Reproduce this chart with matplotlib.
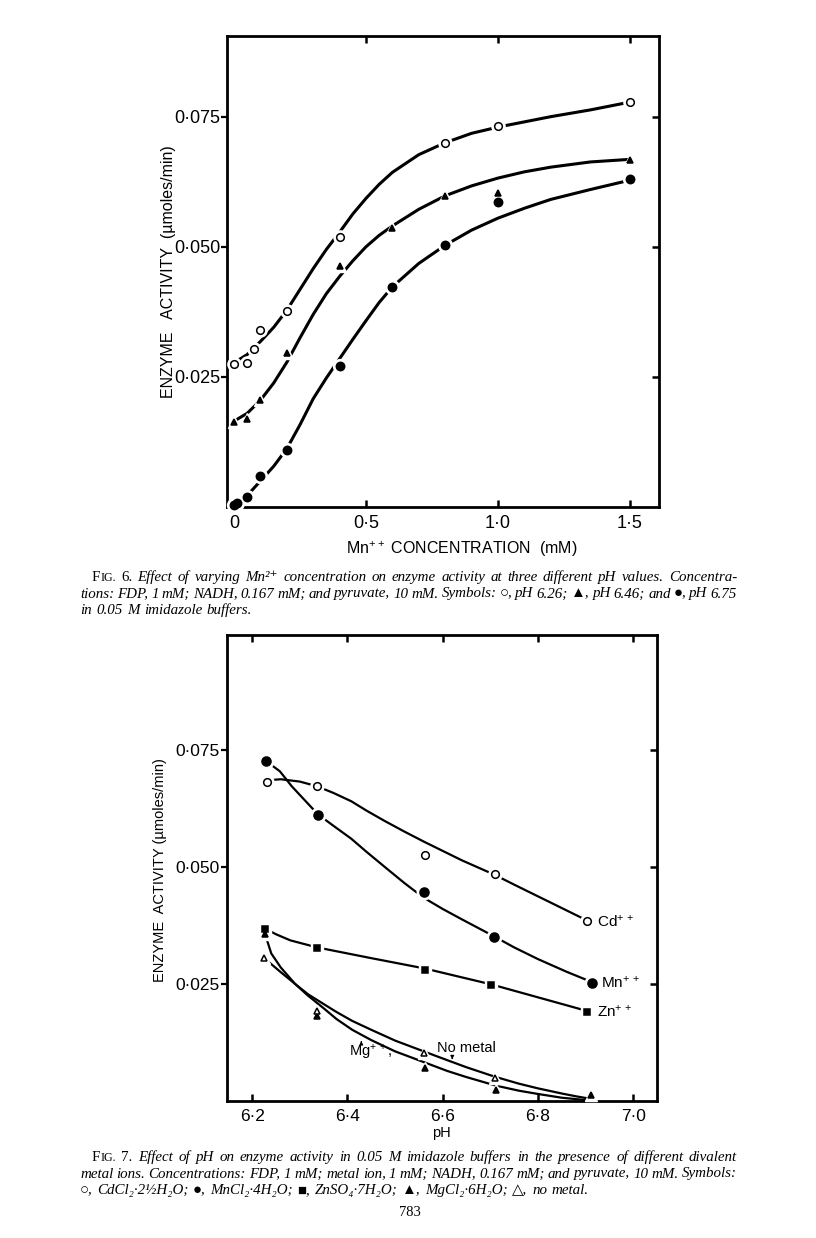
import numpy as np
import matplotlib
matplotlib.use('Agg')
import matplotlib.pyplot as plt

# ---------------------------
# Fig. 6 data (Mn++ in mM)
# ---------------------------
mn_626 = [0.0, 0.05, 0.075, 0.1, 0.2, 0.4, 0.8, 1.0, 1.5]
act_626 = [0.0274, 0.0277, 0.0303, 0.0341, 0.0377, 0.0519, 0.0699, 0.0732, 0.0778]
mn_646 = [0.0, 0.05, 0.1, 0.2, 0.4, 0.6, 0.8, 1.0, 1.5]
act_646 = [0.0164, 0.0169, 0.0205, 0.0296, 0.0463, 0.0537, 0.0598, 0.0603, 0.0666]
mn_675 = [0.0, 0.01, 0.05, 0.1, 0.2, 0.4, 0.6, 0.8, 1.0, 1.5]
act_675 = [0.0004, 0.0008, 0.0020, 0.0059, 0.0109, 0.0270, 0.0423, 0.0503, 0.0587, 0.0630]

# hand drawn curves
cx6 = [0.0, 0.05, 0.1, 0.15, 0.2, 0.25, 0.3, 0.35, 0.4, 0.45, 0.5, 0.55, 0.6,
       0.7, 0.8, 0.9, 1.0, 1.1, 1.2, 1.35, 1.5]
cur_626 = [0.0277, 0.0293, 0.0318, 0.0345, 0.0378, 0.0418, 0.0458, 0.0495, 0.0528,
           0.0563, 0.0593, 0.0620, 0.0643, 0.0677, 0.0700, 0.0718, 0.0730, 0.0740,
           0.0750, 0.0763, 0.0778]
cur_646 = [0.0165, 0.0180, 0.0205, 0.0238, 0.0278, 0.0325, 0.0370, 0.0410, 0.0443,
           0.0473, 0.0500, 0.0522, 0.0540, 0.0572, 0.0598, 0.0617, 0.0632, 0.0644,
           0.0653, 0.0663, 0.0668]
cur_675 = [0.0005, 0.0022, 0.0050, 0.0078, 0.0112, 0.0158, 0.0208, 0.0248, 0.0285,
           0.0322, 0.0358, 0.0393, 0.0423, 0.0468, 0.0503, 0.0532, 0.0555, 0.0574,
           0.0591, 0.0610, 0.0628]

# ---------------------------
# Fig. 7 data (pH)
# ---------------------------
ph_cd = [6.23, 6.336, 6.562, 6.709, 6.904]
act_cd = [0.0681, 0.0672, 0.0526, 0.0484, 0.0384]
ph_mn = [6.229, 6.338, 6.56, 6.707, 6.913]
act_mn = [0.0726, 0.0610, 0.0446, 0.0350, 0.0252]
ph_zn = [6.227, 6.336, 6.562, 6.702, 6.904]
act_zn = [0.0368, 0.0326, 0.0280, 0.0247, 0.0190]
ph_mg = [6.227, 6.336, 6.563, 6.711, 6.911]
act_mg = [0.0356, 0.0182, 0.0070, 0.0024, 0.0013]
ph_no = [6.224, 6.336, 6.56, 6.709]
act_no = [0.0306, 0.0192, 0.0103, 0.0049]

cd_x = [6.235, 6.26, 6.30, 6.336, 6.37, 6.408, 6.44, 6.478, 6.52, 6.562, 6.60,
        6.64, 6.709, 6.75, 6.8, 6.85, 6.904]
cd_y = [0.0685, 0.0687, 0.0682, 0.0672, 0.0658, 0.0640, 0.0620, 0.0598, 0.0575,
        0.0553, 0.0534, 0.0514, 0.0483, 0.0462, 0.0437, 0.0412, 0.0385]
mnc_x = [6.229, 6.258, 6.283, 6.338, 6.37, 6.408, 6.44, 6.478, 6.52, 6.56, 6.60,
         6.64, 6.707, 6.75, 6.8, 6.86, 6.913]
mnc_y = [0.0726, 0.0704, 0.0672, 0.0612, 0.0588, 0.0560, 0.0532, 0.0500, 0.0465,
         0.0434, 0.0410, 0.0388, 0.0352, 0.0328, 0.0303, 0.0276, 0.0254]
znc_x = [6.227, 6.25, 6.28, 6.336, 6.45, 6.562, 6.702, 6.904]
znc_y = [0.0368, 0.0356, 0.0343, 0.0328, 0.0305, 0.0283, 0.0249, 0.0192]
mgc_x = [6.227, 6.24, 6.26, 6.29, 6.317, 6.35, 6.377, 6.41, 6.45, 6.5, 6.563,
         6.61, 6.65, 6.711, 6.76, 6.8, 6.85, 6.88, 6.92]
mgc_y = [0.0356, 0.0315, 0.0285, 0.0250, 0.0225, 0.0198, 0.0175, 0.0152, 0.0130,
         0.0106, 0.0082, 0.0064, 0.0051, 0.0033, 0.0022, 0.0015, 0.0007, 0.0004, 0.0]
noc_x = [6.224, 6.26, 6.29, 6.317, 6.35, 6.377, 6.41, 6.45, 6.5, 6.56, 6.61, 6.65,
         6.709, 6.76, 6.8, 6.85, 6.88, 6.92]
noc_y = [0.0306, 0.0275, 0.0250, 0.0228, 0.0207, 0.0190, 0.0171, 0.0152, 0.0129,
         0.0106, 0.0087, 0.0072, 0.0052, 0.0037, 0.0027, 0.0016, 0.0010, 0.0003]

SANS = ['Liberation Sans', 'DejaVu Sans']
SERIF = ['Liberation Serif', 'DejaVu Serif']
plt.rcParams['font.family'] = SANS
plt.rcParams['mathtext.default'] = 'regular'

W, H = 816, 1238
fig = plt.figure(figsize=(W / 100, H / 100), dpi=100)
fig.patch.set_facecolor('white')


def box(l, t, r, b):
    return [l / W, 1 - b / H, (r - l) / W, (b - t) / H]


def marks(ax, x, y, m, filled, ms):
    ax.plot(x, y, ls='none', marker=m, ms=ms + 4, mfc='white', mec='white',
            zorder=3, clip_on=False)
    ax.plot(x, y, ls='none', marker=m, ms=ms, mfc='black' if filled else 'white',
            mec='black', mew=1.1, zorder=4, clip_on=False)


def frame(ax, xt, xtop, yt, xlab, ylab, size):
    for s in ax.spines.values():
        s.set_linewidth(2.0)
    ax.set_xticks(xt)
    ax.set_xticklabels(xlab, fontsize=size)
    ax.set_yticks(yt)
    ax.set_yticklabels(ylab, fontsize=size)
    ax.tick_params(axis='x', direction='in', length=5, width=1.8, pad=6)
    ax.tick_params(axis='y', direction='out', length=4, width=1.6, pad=1)
    top = ax.secondary_xaxis('top')
    top.set_xticks(xtop)
    top.set_xticklabels([])
    top.tick_params(direction='in', length=5, width=1.8)
    right = ax.secondary_yaxis('right')
    right.set_yticks(yt)
    right.set_yticklabels([])
    right.tick_params(direction='in', length=5, width=1.8)
    for sec in (top, right):
        for s in sec.spines.values():
            s.set_visible(False)


# ---------------- Fig. 6 ----------------
ax1 = fig.add_axes(box(227, 36, 659, 507))
ax1.set_xlim(-0.0265, 1.61)
ax1.set_ylim(0, 0.0905)
frame(ax1, [0, 0.5, 1.0, 1.5], [0.5, 1.0, 1.5], [0.025, 0.050, 0.075],
      ['0', '0·5', '1·0', '1·5'], ['0·025', '0·050', '0·075'], 13)
for cy in (cur_626, cur_646, cur_675):
    ax1.plot(cx6, cy, color='black', lw=2.2, solid_capstyle='round',
             solid_joinstyle='round', zorder=2)
marks(ax1, mn_626, act_626, 'o', False, 5.5)
marks(ax1, mn_646, act_646, '^', True, 5.0)
marks(ax1, mn_675, act_675, 'o', True, 6.0)

fig.text(168 / W, 1 - 272 / H, 'ENZYME   ACTIVITY  (µmoles/min)', rotation=90,
         ha='center', va='center', fontsize=11.5)
fig.text(462 / W, 1 - 549 / H, 'Mn$^{++}$ CONCENTRATION  (mM)', ha='center',
         va='center', fontsize=11.5)

# ---------------- Fig. 7 ----------------
ax2 = fig.add_axes(box(227, 635, 657, 1101))
ax2.set_xlim(6.147, 7.05)
ax2.set_ylim(0, 0.0995)
frame(ax2, [6.2, 6.4, 6.6, 6.8, 7.0], [6.2, 6.4, 6.6, 6.8, 7.0],
      [0.025, 0.050, 0.075], ['6·2', '6·4', '6·6', '6·8', '7·0'],
      ['0·025', '0·050', '0·075'], 12.5)
for cx, cy in ((cd_x, cd_y), (mnc_x, mnc_y), (znc_x, znc_y), (mgc_x, mgc_y),
               (noc_x, noc_y)):
    ax2.plot(cx, cy, color='black', lw=1.6, solid_capstyle='round',
             solid_joinstyle='round', zorder=2)
marks(ax2, ph_cd, act_cd, 'o', False, 5.5)
marks(ax2, ph_mn, act_mn, 'o', True, 6.5)
marks(ax2, ph_zn, act_zn, 's', True, 5.0)
marks(ax2, ph_mg, act_mg, '^', True, 5.0)
marks(ax2, ph_no, act_no, '^', False, 5.0)

ax2.text(6.925, 0.0384, 'Cd$^{+\\,+}$', fontsize=11, va='center')
ax2.text(6.933, 0.0252, 'Mn$^{+\\,+}$', fontsize=11, va='center')
ax2.text(6.925, 0.0190, 'Zn$^{+\\,+}$', fontsize=11, va='center')
ax2.text(6.403, 0.0104, 'Mg$^{+\\,+}$,', fontsize=10.5, va='center')
ax2.text(6.588, 0.0113, 'No metal', fontsize=10.5, va='center')
ax2.annotate('', xy=(6.62, 0.0083), xytext=(6.62, 0.0097),
             arrowprops=dict(arrowstyle='-|>', lw=0.8, color='black',
                             mutation_scale=5))
ax2.annotate('', xy=(6.429, 0.0134), xytext=(6.429, 0.0120),
             arrowprops=dict(arrowstyle='-|>', lw=0.8, color='black',
                             mutation_scale=5))

fig.text(160 / W, 1 - 870 / H, 'ENZYME  ACTIVITY (µmoles/min)', rotation=90,
         ha='center', va='center', fontsize=10.5)
fig.text(441 / W, 1 - 1133 / H, 'pH', ha='center', va='center', fontsize=10.5)

# ---------------- captions ----------------
rend = fig.canvas.get_renderer()
CAP = 12.0


def pieces(word):
    if word == 'FIG.':
        return [('F', 'normal', 1.0), ('IG.', 'normal', 0.8)]
    if word in ('6.', '7.'):
        return [(word, 'normal', 1.0)]
    return [(word, 'italic', 1.0)]


def measure(text, size):
    words = []
    for w in text.split(' '):
        parts = []
        for txt, st, sc in pieces(w):
            t = fig.text(0, 0, txt, fontsize=size * sc, style=st, family=SERIF,
                         va='baseline')
            parts.append((t, t.get_window_extent(rend).width))
        words.append(parts)
    return words


def fit_size(lines, x0s, x1, size):
    # largest size at which every justified line still keeps a word gap
    while True:
        ok = True
        for text, x0 in zip(lines, x0s):
            words = measure(text, size)
            tot = sum(w for parts in words for _, w in parts)
            for parts in words:
                for t, _ in parts:
                    t.remove()
            if (x1 - x0 - tot) / (len(words) - 1) < 3.0:
                ok = False
        if ok:
            return size
        size -= 0.2


def caption_line(y, x0, x1, text, justify, size):
    words = measure(text, size)
    widths = [sum(p[1] for p in parts) for parts in words]
    if justify:
        gap = (x1 - x0 - sum(widths)) / (len(words) - 1)
    else:
        gap = size * 0.3 * 100 / 72
    x = x0
    for parts, ww in zip(words, widths):
        xx = x
        for t, w in parts:
            t.set_position((xx / W, 1 - y / H))
            xx += w
        x += ww + gap


cap6 = ['FIG. 6. Effect of varying Mn²⁺ concentration on enzyme activity at three different pH values. Concentra-',
        'tions: FDP, 1 mM; NADH, 0.167 mM; and pyruvate, 10 mM. Symbols: ○, pH 6.26; ▲, pH 6.46; and ●, pH 6.75',
        'in 0.05 M imidazole buffers.']
cap7 = ['FIG. 7. Effect of pH on enzyme activity in 0.05 M imidazole buffers in the presence of different divalent',
        'metal ions. Concentrations: FDP, 1 mM; metal ion, 1 mM; NADH, 0.167 mM; and pyruvate, 10 mM. Symbols:',
        '○, CdCl₂·2½H₂O; ●, MnCl₂·4H₂O; ■, ZnSO₄·7H₂O; ▲, MgCl₂·6H₂O; △, no metal.']

size = fit_size([cap6[0], cap6[1], cap7[0], cap7[1]], [92, 80, 92, 80], 737, CAP)
for i, line in enumerate(cap6):
    caption_line(581 + 16.5 * i, 92 if i == 0 else 80, 737, line, i < 2, size)
for i, line in enumerate(cap7):
    caption_line(1161 + 16.5 * i, 92 if i == 0 else 80, 737, line, i < 2, size)

fig.text(410 / W, 1 - 1216 / H, '783', family=SERIF, fontsize=10.5, ha='center',
         va='baseline')

fig.savefig('out.png', dpi=100, facecolor='white')
